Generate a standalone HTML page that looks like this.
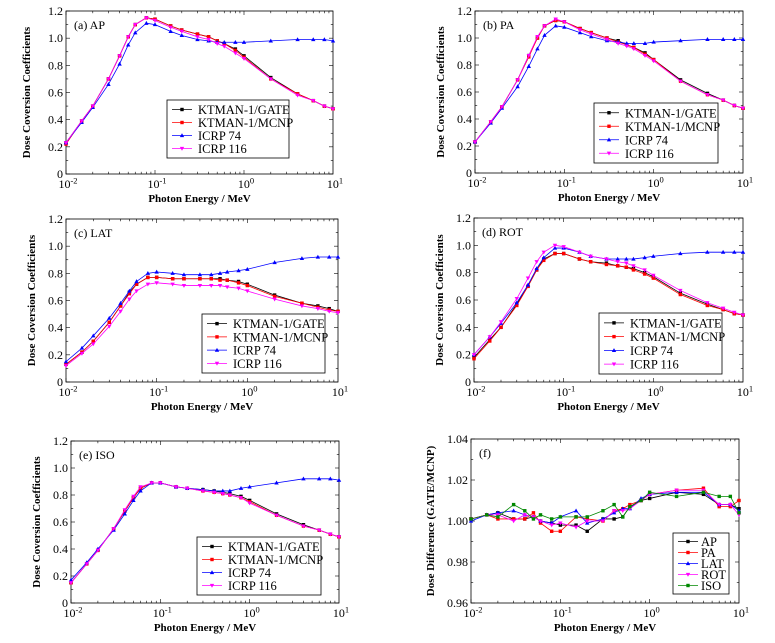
<!DOCTYPE html>
<html><head><meta charset="utf-8"><style>
html,body{margin:0;padding:0;background:#fff}
svg{display:block;font-family:"Liberation Serif",serif}
</style></head><body>
<svg id="c" width="775" height="643" viewBox="0 0 775 643"></svg>
<script>
const energies=[0.01,0.015,0.02,0.03,0.04,0.05,0.06,0.08,0.1,0.15,0.2,0.3,0.4,0.5,0.6,0.8,1,2,4,6,8,10];
const seriesNames=["KTMAN-1/GATE","KTMAN-1/MCNP","ICRP 74","ICRP 116"];
const ratioNames=["AP","PA","LAT","ROT","ISO"];
const yTicksCoef=[0,0.2,0.4,0.6,0.8,1.0,1.2];
const yTickLabelsCoef=["0","0.2","0.4","0.6","0.8","1.0","1.2"];
const yTicksRatio=[0.96,0.98,1.00,1.02,1.04];
const yTickLabelsRatio=["0.96","0.98","1.00","1.02","1.04"];
const xTickExp=["-2","-1","0","1"];

const apGate=[.23,.39,.50,.70,.87,1.01,1.10,1.15,1.14,1.09,1.06,1.03,1.01,.98,.96,.92,.87,.71,.59,.54,.50,.48];
const apMcnp=[.22,.39,.50,.70,.87,1.01,1.10,1.15,1.14,1.09,1.06,1.03,1.01,.98,.96,.91,.86,.70,.59,.54,.50,.48];
const ap74=[.23,.38,.49,.66,.81,.95,1.04,1.11,1.10,1.05,1.02,.99,.98,.97,.97,.97,.97,.98,.99,.99,.99,.98];
const ap116=[.23,.39,.50,.70,.87,1.01,1.10,1.15,1.13,1.08,1.05,1.01,.99,.96,.94,.89,.85,.70,.58,.54,.50,.48];

const paGate=[.23,.38,.49,.69,.87,1.00,1.09,1.13,1.12,1.07,1.04,1.00,.98,.95,.93,.89,.84,.69,.59,.54,.50,.48];
const paMcnp=[.23,.38,.49,.69,.86,1.00,1.09,1.13,1.12,1.07,1.04,1.00,.97,.95,.93,.88,.84,.68,.58,.54,.50,.48];
const pa74=[.23,.37,.48,.64,.79,.92,1.02,1.09,1.08,1.04,1.01,.98,.97,.96,.96,.96,.97,.98,.99,.99,.99,.99];
const pa116=[.23,.38,.49,.69,.87,1.01,1.09,1.14,1.12,1.06,1.03,.99,.96,.94,.92,.87,.83,.68,.58,.54,.50,.48];

const latGate=[.13,.22,.30,.44,.56,.66,.72,.77,.77,.76,.76,.76,.76,.76,.75,.74,.72,.64,.58,.56,.54,.52];
const latMcnp=[.13,.22,.30,.44,.56,.65,.72,.77,.77,.76,.76,.76,.76,.75,.75,.73,.71,.63,.58,.55,.53,.52];
const lat74=[.15,.25,.34,.47,.58,.67,.74,.80,.81,.80,.79,.79,.79,.80,.81,.82,.83,.88,.91,.92,.92,.92];
const lat116=[.12,.21,.28,.41,.52,.61,.67,.72,.73,.72,.71,.71,.71,.71,.70,.69,.67,.61,.56,.54,.52,.51];

const rotGate=[.18,.31,.40,.57,.70,.82,.90,.94,.94,.90,.88,.87,.85,.84,.83,.80,.77,.65,.57,.53,.50,.49];
const rotMcnp=[.17,.30,.40,.56,.70,.82,.89,.94,.94,.90,.88,.86,.85,.84,.82,.79,.76,.64,.56,.53,.50,.49];
const rot74=[.20,.33,.43,.58,.71,.83,.91,.98,.98,.95,.92,.90,.90,.90,.90,.91,.92,.94,.95,.95,.95,.95];
const rot116=[.20,.33,.44,.61,.76,.88,.95,1.00,.99,.95,.92,.90,.88,.87,.85,.82,.78,.67,.58,.54,.51,.49];

const isoGate=[.15,.29,.39,.55,.68,.78,.85,.89,.89,.86,.85,.84,.83,.82,.81,.79,.76,.66,.58,.54,.51,.49];
const isoMcnp=[.15,.29,.39,.55,.68,.78,.85,.89,.89,.86,.85,.83,.82,.81,.80,.78,.75,.65,.57,.54,.51,.49];
const iso74=[.17,.30,.40,.54,.66,.76,.83,.89,.89,.86,.85,.84,.83,.83,.83,.85,.86,.89,.92,.92,.92,.91];
const iso116=[.15,.29,.39,.55,.69,.79,.86,.89,.89,.86,.85,.83,.82,.81,.80,.78,.74,.65,.57,.54,.51,.49];

const ratioAP=[1.001,1.003,1.004,1.001,1.001,1.002,1.000,0.999,0.998,0.998,0.995,1.001,1.001,1.002,1.007,1.010,1.011,1.014,1.013,1.008,1.008,1.006];
const ratioPA=[1.001,1.003,1.001,1.001,1.001,1.004,0.999,0.995,0.995,1.002,1.001,1.000,1.005,1.006,1.008,1.010,1.013,1.015,1.016,1.007,1.007,1.010];
const ratioLAT=[1.000,1.003,1.004,1.005,1.003,1.002,1.000,0.999,1.002,1.005,0.999,1.001,1.004,1.006,1.006,1.011,1.013,1.014,1.014,1.008,1.008,1.005];
const ratioROT=[1.001,1.003,1.003,1.000,1.003,1.002,1.000,0.998,0.999,0.997,1.000,1.000,1.005,1.005,1.006,1.010,1.013,1.015,1.015,1.008,1.008,1.003];
const ratioISO=[1.001,1.003,1.002,1.008,1.005,1.001,1.003,1.001,1.002,1.002,1.002,1.005,1.008,1.002,1.007,1.010,1.014,1.012,1.014,1.012,1.012,1.004];

const NS="http://www.w3.org/2000/svg";
const svg=document.getElementById("c");
function mk(tag,attrs,parent){const e=document.createElementNS(NS,tag);for(const k in attrs)e.setAttribute(k,attrs[k]);(parent||svg).appendChild(e);return e;}

function marker(g,kind,x,y,color){
  let m;
  if(kind==="sq"){m=mk("rect",{x:x-1.7,y:y-1.7,width:3.4,height:3.4,fill:color},g);}
  else if(kind==="tri"){m=mk("polygon",{points:`${x},${y-2.3} ${x-2.2},${y+1.6} ${x+2.2},${y+1.6}`,fill:color},g);}
  else {m=mk("polygon",{points:`${x},${y+2.3} ${x-2.2},${y-1.6} ${x+2.2},${y-1.6}`,fill:color},g);}
  
  
}

const styles=[{c:"#000",m:"sq"},{c:"#f00",m:"sq"},{c:"#00f",m:"tri"},{c:"#f0f",m:"inv"}];
const rstyles=[{c:"#000",m:"sq"},{c:"#f00",m:"sq"},{c:"#00f",m:"tri"},{c:"#f0f",m:"inv"},{c:"#080",m:"sq"}];

function panel(p){
  const g=mk("g",{});
  
  
  const {x0,x1,y0,y1,ymin,ymax}=p;
  const sx=v=>x0+(Math.log10(v)+2)/3*(x1-x0);
  const sy=v=>y1-(v-ymin)/(ymax-ymin)*(y1-y0);
  const fr=mk("rect",{x:x0,y:y0,width:x1-x0,height:y1-y0,fill:"none",stroke:"#000","stroke-width":0.8},g);
  
  
  for(let d=0;d<3;d++){for(let k=1;k<10;k++){const v=Math.pow(10,d-2)*k;const X=sx(v);const L=k===1?4:2.2;
    mk("line",{x1:X,x2:X,y1:y1,y2:y1-L,stroke:"#000","stroke-width":0.6},g);
    mk("line",{x1:X,x2:X,y1:y0,y2:y0+L,stroke:"#000","stroke-width":0.6},g);}}
  xTickExp.forEach((e,i)=>{const X=x0+i/3*(x1-x0);
    const t=mk("text",{x:X+2,y:y1+14,"font-size":12,"text-anchor":"middle"},g);
    
    
    t.innerHTML=`10<tspan dy="-4.5" font-size="8.5">${e}</tspan>`;});
  const ticks=p.ratio?yTicksRatio:yTicksCoef, labs=p.ratio?yTickLabelsRatio:yTickLabelsCoef;
  const minorStep=(ticks[1]-ticks[0])/2;
  for(let v=ymin;v<=ymax+1e-9;v+=minorStep){const Y=sy(v);const q=(v-ymin)/(ticks[1]-ticks[0]);const major=Math.abs(q-Math.round(q))<1e-6;const L=major?4:2.2;
    mk("line",{x1:x0,x2:x0+L,y1:Y,y2:Y,stroke:"#000","stroke-width":0.6},g);
    mk("line",{x1:x1,x2:x1-L,y1:Y,y2:Y,stroke:"#000","stroke-width":0.6},g);}
  ticks.forEach((v,i)=>{const t=mk("text",{x:x0-3,y:sy(v)+4,"font-size":12,"text-anchor":"end"},g);
    
    
    t.textContent=labs[i];});
  const xt=mk("text",{x:(x0+x1)/2,y:y1+28,"font-size":11,"font-weight":"bold","text-anchor":"middle"},g);
  
  
  xt.textContent="Photon Energy / MeV";
  const ytx=p.ytx,yty=(y0+y1)/2;
  const yt=mk("text",{x:ytx,y:yty,"font-size":11,"font-weight":"bold","text-anchor":"middle",transform:`rotate(-90 ${ytx} ${yty})`},g);
  
  
  yt.textContent=p.ratio?"Dose Difference (GATE/MCNP)":"Dose Coversion Coefficients";
  const pl=mk("text",{x:x0+8,y:y0+18,"font-size":12},g);
  
  
  pl.setAttribute('xml:space','preserve');
  pl.textContent=p.label;
  const st=p.ratio?rstyles:styles;
  p.series.forEach((s,i)=>{const sg=mk("g",{},g);
    
    
    const pts=s.map((v,j)=>sx(energies[j]).toFixed(2)+","+sy(v).toFixed(2)).join(" ");
    mk("polyline",{points:pts,fill:"none",stroke:st[i].c,"stroke-width":0.8},sg);
    s.forEach((v,j)=>marker(sg,st[i].m,sx(energies[j]),sy(v),st[i].c));});
  const [lx,ly,lw,lh]=p.leg;
  const lg=mk("g",{},g);
  
  
  mk("rect",{x:lx,y:ly,width:lw,height:lh,fill:"#fff",stroke:"#000","stroke-width":0.8},lg);
  const n=p.names.length,rh=(lh-6)/n;
  p.names.forEach((nm,i)=>{const Y=ly+3+rh*(i+0.5);
    const e=mk("g",{},lg);
    
    
    mk("line",{x1:lx+5,x2:lx+25,y1:Y,y2:Y,stroke:st[i].c,"stroke-width":0.8},e);
    marker(e,st[i].m,lx+15,Y,st[i].c);
    const t=mk("text",{x:lx+p.lt,y:Y+4.5,"font-size":p.ratio?12.5:12.5},e);
    t.textContent=nm;});
}

const P=[
 {name:"panel-a-ap",label:"(a)  AP",x0:66,x1:333,y0:11,y1:174,ytx:30,series:[apGate,apMcnp,ap74,ap116],leg:[167,100,122,58]},
 {name:"panel-b-pa",label:"(b)    PA",x0:475,x1:743,y0:11,y1:173,ytx:444,series:[paGate,paMcnp,pa74,pa116],leg:[594,103,124,60]},
 {name:"panel-c-lat",label:"(c)    LAT",x0:66,x1:338,y0:219,y1:382,ytx:35,series:[latGate,latMcnp,lat74,lat116],leg:[202,314,123,59]},
 {name:"panel-d-rot",label:"(d)    ROT",x0:474,x1:743,y0:218,y1:382,ytx:443,series:[rotGate,rotMcnp,rot74,rot116],leg:[599,313,123,61]},
 {name:"panel-e-iso",label:"(e)    ISO",x0:71,x1:339,y0:441,y1:603,ytx:40,series:[isoGate,isoMcnp,iso74,iso116],leg:[197,537,124,58]},
 {name:"panel-f-ratio",label:"(f)",ratio:true,x0:471,x1:739,y0:439,y1:603,ytx:434,series:[ratioAP,ratioPA,ratioLAT,ratioROT,ratioISO],leg:[673,533,56,61]}
];
P.forEach(p=>{
  if(p.ratio){p.ymin=0.96;p.ymax=1.04;p.names=ratioNames;p.lt=28;}
  else{p.ymin=0;p.ymax=1.2;p.names=seriesNames;p.lt=31;}
  panel(p);
});
</script>
</body></html>
